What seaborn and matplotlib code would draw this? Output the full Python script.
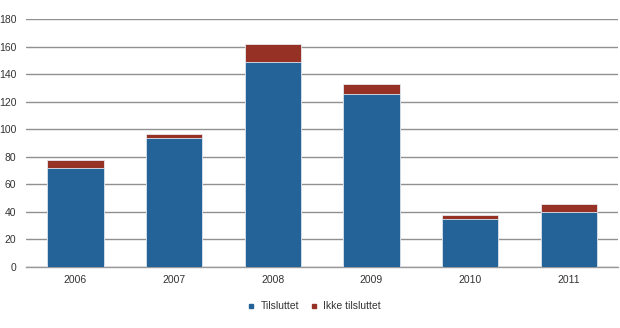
import matplotlib
matplotlib.use("Agg")
import matplotlib.pyplot as plt
from matplotlib.lines import Line2D
import seaborn as sns
import pandas as pd

years = ["2006", "2007", "2008", "2009", "2010", "2011"]
tilsluttet = [72, 94, 149, 126, 35, 40]
ikke_tilsluttet = [6, 3, 13, 7, 3, 6]
yticks = [0, 20, 40, 60, 80, 100, 120, 140, 160, 180]

blue = "#236398"
red = "#963126"

df = pd.DataFrame({"år": years, "Tilsluttet": tilsluttet, "Ikke tilsluttet": ikke_tilsluttet})
df["Totalt"] = df["Tilsluttet"] + df["Ikke tilsluttet"]

sns.set_style("white")
plt.rcParams["font.family"] = ["Liberation Sans", "DejaVu Sans"]

fig = plt.figure(figsize=(6.2, 3.28), dpi=100)
ax = fig.add_axes([0.042, 0.186, 0.955, 0.755])

# stacked bars: total in red underneath, connected part in blue on top
sns.barplot(data=df, x="år", y="Totalt", color=red, width=0.57, saturation=1,
            edgecolor="#e8e8f0", linewidth=0.6, ax=ax, zorder=3)
sns.barplot(data=df, x="år", y="Tilsluttet", color=blue, width=0.57, saturation=1,
            edgecolor="#dfe6f0", linewidth=0.6, ax=ax, zorder=4)

ax.set_ylim(0, 180)
ax.set_yticks(yticks)
ax.set_xlim(-0.5, 5.5)
ax.yaxis.grid(True, color="#909090", linewidth=1.0, zorder=0)
ax.set_axisbelow(True)
for s in ["top", "right", "left"]:
    ax.spines[s].set_visible(False)
ax.spines["bottom"].set_color("#9a9a9a")
ax.spines["bottom"].set_linewidth(1.0)
ax.set_xlabel("")
ax.set_ylabel("")
ax.tick_params(axis="both", labelsize=7.5, labelcolor="#333333", length=0)
ax.tick_params(axis="x", pad=6)
ax.tick_params(axis="y", pad=7)

handles = [
    Line2D([], [], marker="s", linestyle="", markersize=3.5, color=blue, label="Tilsluttet"),
    Line2D([], [], marker="s", linestyle="", markersize=3.5, color=red, label="Ikke tilsluttet"),
]
fig.legend(handles=handles, loc="center", bbox_to_anchor=(0.506, 0.066), ncol=2,
           frameon=False, fontsize=7.5, handlelength=0.8, handletextpad=0.5,
           columnspacing=1.0, labelcolor="#333333")

fig.savefig("out.png", dpi=100)
